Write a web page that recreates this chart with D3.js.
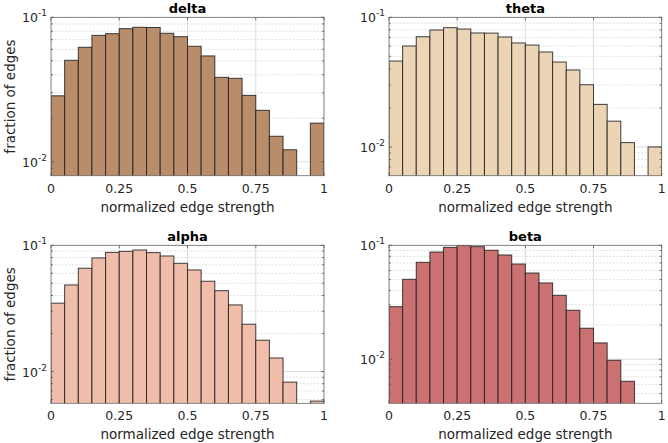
<!DOCTYPE html>
<html>
<head>
<meta charset="utf-8">
<script src="https://cdn.jsdelivr.net/npm/d3@7"></script>
<style>
  body { margin: 0; background: #fff; }
  svg { display: block; font-family: "DejaVu Sans", sans-serif; }
</style>
</head>
<body>
<svg id="chart" width="668" height="443"></svg>
<script>
// ---- data (fraction of edges per bin, 20 bins of width 0.05 on [0,1]) ----
const binEdges = d3.range(0, 21).map(i => i * 0.05);
const delta = [0.0286, 0.0504, 0.0620, 0.0750, 0.0770, 0.0834, 0.0853, 0.0850, 0.0775, 0.0734,
               0.0630, 0.0540, 0.0384, 0.0378, 0.0288, 0.0227, 0.0150, 0.0121, 0.0075, 0.0185];
const theta = [0.0460, 0.0601, 0.0708, 0.0798, 0.0832, 0.0812, 0.0757, 0.0755, 0.0705, 0.0634,
               0.0611, 0.0540, 0.0452, 0.0392, 0.0302, 0.0213, 0.0158, 0.0108, 0.0050, 0.0100];
const alpha = [0.0348, 0.0485, 0.0658, 0.0794, 0.0879, 0.0896, 0.0918, 0.0875, 0.0823, 0.0720,
               0.0638, 0.0519, 0.0437, 0.0337, 0.0237, 0.0177, 0.0128, 0.00824, 0.0050, 0.00583];
const beta  = [0.0289, 0.0503, 0.0709, 0.0873, 0.0960, 0.0995, 0.0973, 0.0904, 0.0822, 0.0685,
               0.0571, 0.0467, 0.0364, 0.0269, 0.0187, 0.0139, 0.00978, 0.0064, 0.0030, 0.0030];
const bandNames = ["delta", "theta", "alpha", "beta"];
const xTicks = [0, 0.25, 0.5, 0.75, 1];
const xTickLabels = ["0", "0.25", "0.5", "0.75", "1"];
const yMajorTicks = [0.01, 0.1];
const yTickExponents = ["-2", "-1"];
const yLimitsMin = [0.008, 0.006, 0.0056, 0.0041];

// ---- layout / style ----
const panels = [
  { name: bandNames[0], values: delta, x0: 51,  x1: 324,   y0: 17.3,  y1: 175.7, ymin: yLimitsMin[0], color: "#b98c6a", ylabel: true },
  { name: bandNames[1], values: theta, x0: 389, x1: 661.7, y0: 17.3,  y1: 175.7, ymin: yLimitsMin[1], color: "#ecd5b5", ylabel: false },
  { name: bandNames[2], values: alpha, x0: 51,  x1: 324,   y0: 245.3, y1: 403.3, ymin: yLimitsMin[2], color: "#f0bdab", ylabel: true },
  { name: bandNames[3], values: beta,  x0: 389, x1: 661.7, y0: 245.3, y1: 403.3, ymin: yLimitsMin[3], color: "#cc7171", ylabel: false }
];

const svg = d3.select("#chart");
const textColor = "#262626";

panels.forEach((p, pi) => {
  const x = d3.scaleLinear().domain([0, 1]).range([p.x0, p.x1]);
  const y = d3.scaleLog().domain([p.ymin, 0.1]).range([p.y1, p.y0]);
  const g = svg.append("g");

  const clipId = "clip" + pi;
  svg.append("clipPath").attr("id", clipId)
    .append("rect").attr("x", p.x0).attr("y", p.y0)
    .attr("width", p.x1 - p.x0).attr("height", p.y1 - p.y0);

  // minor y values
  const minor = [];
  [0.001, 0.01].forEach(dec => {
    for (let k = 2; k <= 9; k++) {
      const v = dec * k;
      if (v > p.ymin && v < 0.1) minor.push(v);
    }
  });

  // grid
  const grid = g.append("g").attr("clip-path", `url(#${clipId})`);
  grid.selectAll("line.minor").data(minor).join("line")
    .attr("x1", p.x0).attr("x2", p.x1)
    .attr("y1", d => y(d)).attr("y2", d => y(d))
    .attr("stroke", "#d8d8d8").attr("stroke-width", 0.8)
    .attr("stroke-dasharray", "2,1.5");
  grid.selectAll("line.majy").data(yMajorTicks).join("line")
    .attr("x1", p.x0).attr("x2", p.x1)
    .attr("y1", d => y(d)).attr("y2", d => y(d))
    .attr("stroke", "#dcdcdc").attr("stroke-width", 1);
  grid.selectAll("line.majx").data(xTicks).join("line")
    .attr("x1", d => x(d)).attr("x2", d => x(d))
    .attr("y1", p.y0).attr("y2", p.y1)
    .attr("stroke", "#dcdcdc").attr("stroke-width", 1);

  // bars
  const bars = g.append("g").attr("clip-path", `url(#${clipId})`);
  bars.selectAll("rect").data(p.values).join("rect")
    .attr("x", (d, i) => x(binEdges[i]))
    .attr("width", (d, i) => x(binEdges[i + 1]) - x(binEdges[i]))
    .attr("y", d => Math.min(y(Math.max(d, 1e-6)), p.y1 + 2))
    .attr("height", d => Math.max(0, p.y1 + 2 - Math.min(y(Math.max(d, 1e-6)), p.y1 + 2)))
    .attr("fill", p.color)
    .attr("stroke", "rgba(30,30,30,0.85)")
    .attr("stroke-width", 1);

  // box
  g.append("rect")
    .attr("x", p.x0).attr("y", p.y0)
    .attr("width", p.x1 - p.x0).attr("height", p.y1 - p.y0)
    .attr("fill", "none").attr("stroke", "#6a6a6a").attr("stroke-width", 0.8);

  // ticks (inward) on all sides
  const ticks = g.append("g").attr("stroke", "#555").attr("stroke-width", 0.8);
  xTicks.forEach(t => {
    ticks.append("line").attr("x1", x(t)).attr("x2", x(t)).attr("y1", p.y1).attr("y2", p.y1 - 3);
    ticks.append("line").attr("x1", x(t)).attr("x2", x(t)).attr("y1", p.y0).attr("y2", p.y0 + 3);
  });
  yMajorTicks.forEach(t => {
    ticks.append("line").attr("x1", p.x0).attr("x2", p.x0 + 3).attr("y1", y(t)).attr("y2", y(t));
    ticks.append("line").attr("x1", p.x1).attr("x2", p.x1 - 3).attr("y1", y(t)).attr("y2", y(t));
  });
  minor.forEach(t => {
    ticks.append("line").attr("x1", p.x0).attr("x2", p.x0 + 2).attr("y1", y(t)).attr("y2", y(t));
    ticks.append("line").attr("x1", p.x1).attr("x2", p.x1 - 2).attr("y1", y(t)).attr("y2", y(t));
  });

  // x tick labels
  g.selectAll("text.xt").data(xTicks).join("text")
    .attr("x", d => x(d)).attr("y", p.y1 + 17)
    .attr("text-anchor", "middle").attr("font-size", 12.5)
    .attr("fill", textColor)
    .text((d, i) => xTickLabels[i]);

  // y tick labels with superscript
  yMajorTicks.forEach((t, i) => {
    const tx = g.append("text")
      .attr("x", p.x0 - 4).attr("y", y(t) + 5)
      .attr("text-anchor", "end").attr("font-size", 12.5)
      .attr("fill", textColor);
    tx.append("tspan").text("10");
    tx.append("tspan").attr("font-size", 9).attr("dy", -6).text(yTickExponents[i]);
  });

  // x label
  g.append("text")
    .attr("x", (p.x0 + p.x1) / 2).attr("y", p.y1 + 36)
    .attr("text-anchor", "middle").attr("font-size", 13.5)
    .attr("fill", textColor)
    .text("normalized edge strength");

  // y label
  if (p.ylabel) {
    const cy = (p.y0 + p.y1) / 2;
    g.append("text")
      .attr("transform", `translate(15,${cy}) rotate(-90)`)
      .attr("text-anchor", "middle").attr("font-size", 13.5)
      .attr("fill", textColor)
      .text("fraction of edges");
  }

  // title
  g.append("text")
    .attr("x", (p.x0 + p.x1) / 2).attr("y", p.y0 - 4)
    .attr("text-anchor", "middle").attr("font-size", 13)
    .attr("font-weight", "bold").attr("fill", "#000")
    .text(p.name);
});
</script>
</body>
</html>
